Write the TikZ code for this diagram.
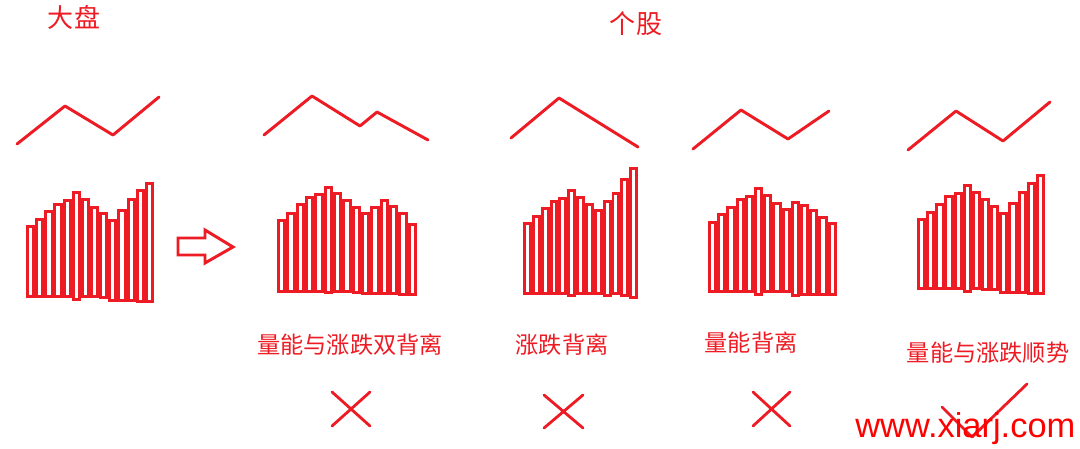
\documentclass[tikz,border=0pt]{standalone}
\usepackage{fontspec}
\setsansfont{Liberation Sans}
\newfontfamily\cjk{Noto Sans CJK SC}
\usetikzlibrary{positioning}
\definecolor{cPaint}{RGB}{237,28,36}
\definecolor{cMark}{RGB}{255,0,0}
\tikzset{
	trend/.style  ={draw=cPaint, line width=2.1pt, line join=round, line cap=round},
	volbar/.style ={draw=cPaint, line width=2.1pt},
	verdict/.style={draw=cPaint, line width=2pt, line cap=round},
	heading/.style={text=cPaint, inner sep=0pt, font=\cjk\fontsize{18.5}{20}\selectfont},
	tag/.style    ={text=cPaint, inner sep=0pt, font=\cjk\fontsize{16.5}{18}\selectfont},
}
\begin{document}
\begin{tikzpicture}[x=0.025cm, y=-0.025cm]
	\useasboundingbox (0,0) rectangle (1080,448);
	% headings
	\node[heading] (index) at (74,17) {大盘};
	\node[heading] (stocks) at (636,24) {个股};
	% price lines
	\draw[trend] (17,144) -- (65,106) -- (113,135) -- (159,97);
	\draw[trend] (264,135) -- (312,96) -- (360,126) -- (377,112) -- (428,140);
	\draw[trend] (511,138) -- (559,98) -- (638,147);
	\draw[trend] (693,149) -- (741,110) -- (788,139) -- (829,111);
	\draw[trend] (908,150) -- (956,111) -- (1003,141) -- (1050,102);
	% volume bars
	\foreach \t/\b [count=\i from 0] in {225/298,218/298,210/298,203/298,199/298,191/301,198/298,206/298,212/299,219/302,209/302,198/302,189/303,182/303}
		\draw[volbar] ({27.5+\i*9.14},\t+1.5) rectangle ++(6.2,\b-\t-3);
	\foreach \t/\b [count=\i from 0] in {219/293,212/293,203/293,196/293,193/293,186/294,192/293,199/293,206/294,212/295,206/295,199/295,205/295,212/296,223/296}
		\draw[volbar] ({278.5+\i*9.33},\t+1.5) rectangle ++(6.4,\b-\t-3);
	\foreach \t/\b [count=\i from 0] in {222/295,215/295,207/295,200/295,197/295,189/297,196/295,203/295,209/295,200/297,192/295,178/297,167/299}
		\draw[volbar] ({524.5+\i*8.85},\t+1.5) rectangle ++(5.9,\b-\t-3);
	\foreach \t/\b [count=\i from 0] in {221/293,213/293,206/293,198/293,195/293,187/296,194/293,202/293,208/293,201/297,204/296,209/296,216/296,222/296}
		\draw[volbar] ({709.5+\i*9.2},\t+1.5) rectangle ++(6.2,\b-\t-3);
	\foreach \t/\b [count=\i from 0] in {218/290,211/290,203/290,195/290,192/290,184/293,191/290,198/291,205/291,212/294,202/294,191/294,182/295,174/295}
		\draw[volbar] ({918.5+\i*9.14},\t+1.5) rectangle ++(6.2,\b-\t-3);
	% hollow arrow
	\draw[volbar, line join=miter] (178,238) -- (205,238) -- (205,230) -- (233,247) -- (205,263) -- (205,255) -- (178,255) -- cycle;
	% captions
	\node[tag] (dualdiv) at (350,345) {量能与涨跌双背离};
	\node[tag] (pricediv) at (562,345) {涨跌背离};
	\node[tag] (voldiv) at (751,343) {量能背离};
	\node[tag] (trendok) at (988,353) {量能与涨跌顺势};
	% verdicts
	\draw[verdict] (332,392) -- (370,426) (370,392) -- (332,426);
	\draw[verdict] (544,395) -- (583,428) (583,395) -- (544,428);
	\draw[verdict] (753,392) -- (790,426) (790,392) -- (753,426);
	\draw[verdict, line join=round] (942,407) -- (972,437) -- (1027,384);
	\node[text=cMark, inner sep=0pt, anchor=base west, font=\sffamily\fontsize{24.5}{28}\selectfont] (site) at (855,437) {www.xiarj.com};
\end{tikzpicture}
\end{document}
